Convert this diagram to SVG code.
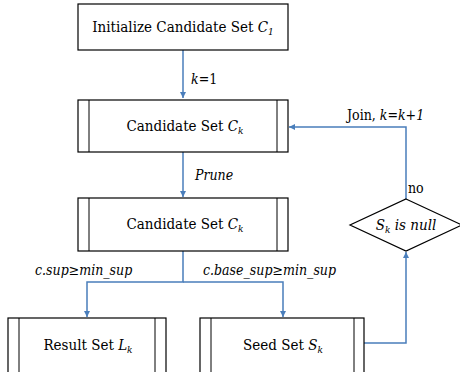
<svg xmlns="http://www.w3.org/2000/svg" width="460" height="372" viewBox="0 0 460 372">
<defs>
<marker id="ah" viewBox="0 0 10 10" refX="10" refY="5" markerWidth="6" markerHeight="6" orient="auto" markerUnits="userSpaceOnUse"><path d="M0,0 L10,5 L0,10 z" fill="#4a7ebb"/></marker>
</defs>
<style>
.box{fill:#fff;stroke:#000;stroke-width:1.2}
.in{stroke:#000;stroke-width:1}
.c{fill:none;stroke:#4a7ebb;stroke-width:1.5}
</style>
<rect width="460" height="372" fill="#fff"/>
<g font-family="'DejaVu Serif Condensed', 'DejaVu Serif', serif" font-stretch="condensed" fill="#000">
<g id="connectors" font-size="14">
<path class="c" d="M183,50 V98" marker-end="url(#ah)"/>
<path class="c" d="M183,152 V197" marker-end="url(#ah)"/>
<path class="c" d="M183,251 V282 H87 V317" marker-end="url(#ah)"/>
<path class="c" d="M183,282 H283 V317" marker-end="url(#ah)"/>
<path class="c" d="M364,343 H406 V252" marker-end="url(#ah)"/>
<path class="c" d="M406,199 V127 H289" marker-end="url(#ah)"/>
<text x="191" y="84"><tspan font-style="italic">k</tspan>=1</text>
<text x="195" y="180" font-style="italic">Prune</text>
<text x="35" y="275" font-style="italic">c.sup≥min_sup</text>
<text x="203" y="275" font-style="italic">c.base_sup≥min_sup</text>
<text x="347" y="120">Join, <tspan font-style="italic">k</tspan>=<tspan font-style="italic">k+1</tspan></text>
<text x="408" y="193">no</text>
</g>
<g font-size="15">
<g id="init">
<rect class="box" x="78" y="4" width="210" height="46"/>
<text x="183" y="32" text-anchor="middle">Initialize Candidate Set <tspan font-style="italic">C</tspan><tspan font-style="italic" font-size="10" dy="3">1</tspan></text>
</g>
<g id="cand1">
<rect class="box" x="78" y="100" width="210" height="52"/>
<line class="in" x1="89" y1="100" x2="89" y2="152"/>
<line class="in" x1="277" y1="100" x2="277" y2="152"/>
<text x="185" y="131" text-anchor="middle">Candidate Set <tspan font-style="italic">C</tspan><tspan font-style="italic" font-size="10" dy="3">k</tspan></text>
</g>
<g id="cand2">
<rect class="box" x="78" y="198" width="210" height="53"/>
<line class="in" x1="89" y1="198" x2="89" y2="251"/>
<line class="in" x1="277" y1="198" x2="277" y2="251"/>
<text x="185" y="229" text-anchor="middle">Candidate Set <tspan font-style="italic">C</tspan><tspan font-style="italic" font-size="10" dy="3">k</tspan></text>
</g>
<g id="result">
<rect class="box" x="8" y="318" width="158" height="60"/>
<line class="in" x1="19" y1="318" x2="19" y2="378"/>
<line class="in" x1="155" y1="318" x2="155" y2="378"/>
<text x="88" y="350" text-anchor="middle">Result Set <tspan font-style="italic">L</tspan><tspan font-style="italic" font-size="10" dy="3">k</tspan></text>
</g>
<g id="seed">
<rect class="box" x="200" y="318" width="164" height="60"/>
<line class="in" x1="211" y1="318" x2="211" y2="378"/>
<line class="in" x1="354" y1="318" x2="354" y2="378"/>
<text x="283" y="350" text-anchor="middle">Seed Set <tspan font-style="italic">S</tspan><tspan font-style="italic" font-size="10" dy="3">k</tspan></text>
</g>
<g id="decision">
<polygon class="box" points="406,199 462,225 406,251 350,225"/>
<text x="406" y="230" text-anchor="middle" font-style="italic">S<tspan font-size="10" dy="3">k</tspan><tspan dy="-3"> is null</tspan></text>
</g>
</g>
</g>
</svg>
